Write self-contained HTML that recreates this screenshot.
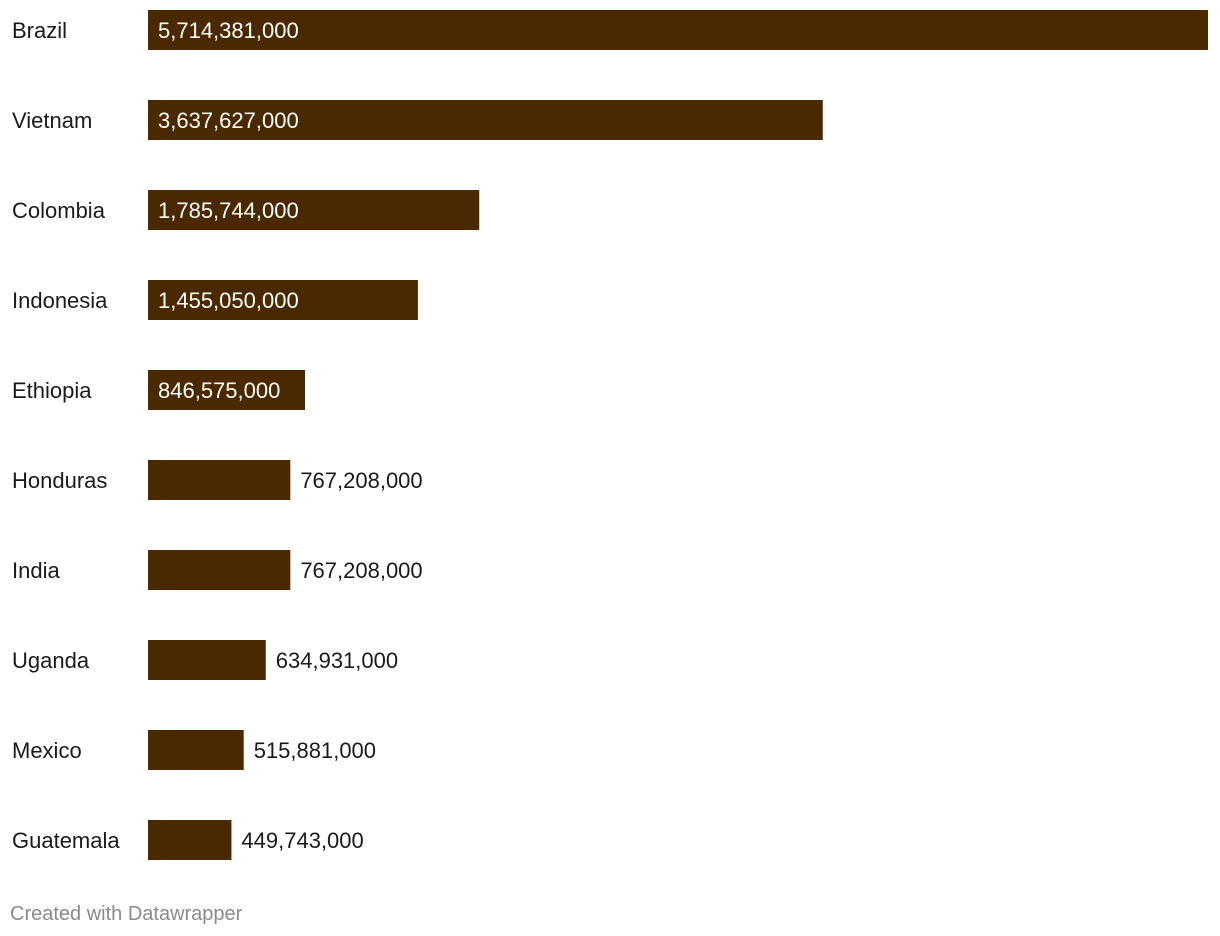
<!DOCTYPE html>
<html><head><meta charset="utf-8"><style>
body{margin:0;background:#fff;width:1220px;height:936px;overflow:hidden;font-family:"Liberation Sans",sans-serif;}
svg{display:block}
</style></head><body>
<svg id="chart" width="1220" height="936" xmlns="http://www.w3.org/2000/svg">
<text x="10" y="920" font-size="20" fill="#8a8a8a" font-family="Liberation Sans, sans-serif">Created with Datawrapper</text>
</svg>
<script>
const categories=["Brazil","Vietnam","Colombia","Indonesia","Ethiopia","Honduras","India","Uganda","Mexico","Guatemala"];
const values=[5714381000,3637627000,1785744000,1455050000,846575000,767208000,767208000,634931000,515881000,449743000];
const svg=document.getElementById('chart');
const NS="http://www.w3.org/2000/svg";
const x0=148,xMaxW=1060,maxV=Math.max(...values);
const xs=v=>v/maxV*xMaxW;
const ys=i=>10+i*90;
categories.forEach((c,i)=>{
  const g=document.createElementNS(NS,'g');
  
  
  const lab=document.createElementNS(NS,'text');
  
  
  lab.setAttribute('x',12);lab.setAttribute('y',ys(i)+28);
  lab.setAttribute('font-size','22');lab.setAttribute('fill','#1a1a1a');
  lab.textContent=c;g.appendChild(lab);
  const w=xs(values[i]);
  const r=document.createElementNS(NS,'rect');
  
  
  r.setAttribute('x',x0);r.setAttribute('y',ys(i));r.setAttribute('width',w);r.setAttribute('height',40);
  r.setAttribute('fill','#4a2800');g.appendChild(r);
  const t=document.createElementNS(NS,'text');
  
  
  const s=values[i].toLocaleString('en-US');
  const inside=w>150;
  t.setAttribute('x',inside?x0+10:x0+w+10);t.setAttribute('y',ys(i)+28);
  t.setAttribute('font-size','22');t.setAttribute('fill',inside?'#ffffff':'#1a1a1a');
  t.textContent=s;g.appendChild(t);
  svg.appendChild(g);
});
</script>
</body></html>
